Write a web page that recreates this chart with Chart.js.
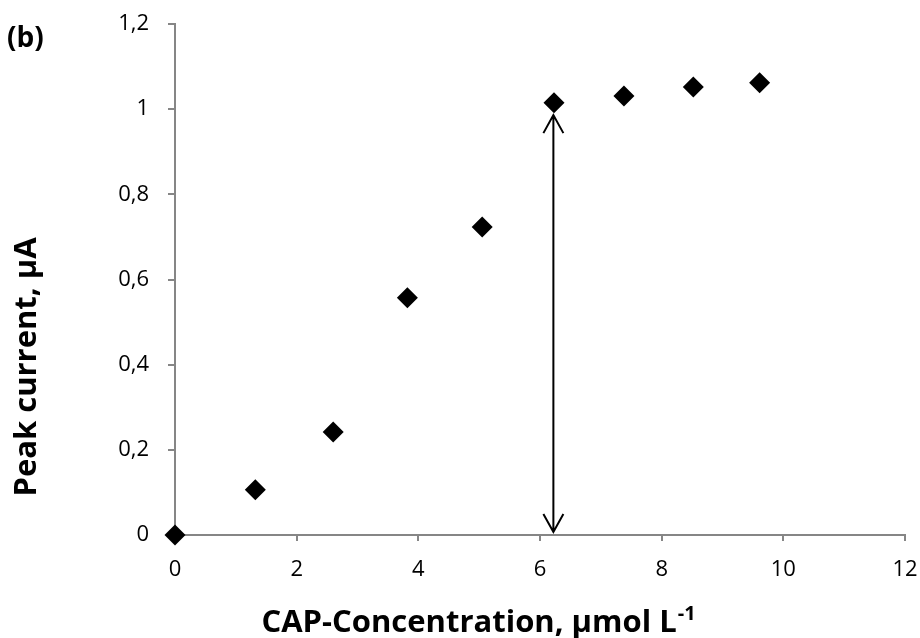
<!DOCTYPE html>
<html>
<head>
<meta charset="utf-8">
<script src="https://cdn.jsdelivr.net/npm/chart.js@4/dist/chart.umd.min.js"></script>
<style>
html,body{margin:0;padding:0;background:#fff;}
#wrap{width:920px;height:638px;position:relative;}
</style>
</head>
<body>
<div id="wrap"><canvas id="c" width="920" height="638"></canvas></div>
<script>
// Data
const concentration = [0, 1.32, 2.6, 3.82, 5.05, 6.23, 7.38, 8.52, 9.61];
const peakCurrent   = [0, 0.106, 0.242, 0.557, 0.723, 1.015, 1.031, 1.052, 1.062];
const arrowX = [6.22, 6.22];
const arrowY = [0.007, 0.986];
const xTicks = [0, 2, 4, 6, 8, 10, 12];
const yTicks = [0, 0.2, 0.4, 0.6, 0.8, 1, 1.2];
const panelLabel = "(b)";
const xTitle = "CAP-Concentration, µmol L";
const xTitleSup = "-1";
const yTitle = "Peak current, µA";

const FONT = "'Open Sans', sans-serif";
const axisGray = "#868686";

const overlay = {
  id: 'overlay',
  afterDatasetsDraw(chart) {
    const ctx = chart.ctx;
    const xs = chart.scales.x, ys = chart.scales.y;
    const ax = xs.getPixelForValue(arrowX[0]);
    const y0 = ys.getPixelForValue(arrowY[0]);
    const y1 = ys.getPixelForValue(arrowY[1]);
    ctx.save();
    ctx.strokeStyle = '#000';
    ctx.lineWidth = 2;
    ctx.beginPath();
    ctx.moveTo(ax, y0); ctx.lineTo(ax, y1);
    ctx.moveTo(ax - 10, y1 + 18); ctx.lineTo(ax, y1); ctx.lineTo(ax + 10, y1 + 18);
    ctx.moveTo(ax - 10, y0 - 18); ctx.lineTo(ax, y0); ctx.lineTo(ax + 10, y0 - 18);
    ctx.stroke();
    ctx.restore();
  },
  afterDraw(chart) {
    const ctx = chart.ctx;
    ctx.save();
    ctx.fillStyle = '#000';
    // panel label
    ctx.font = "bold 28px " + FONT;
    ctx.textAlign = 'left'; ctx.textBaseline = 'middle';
    ctx.fillText(panelLabel, 7, 39);
    // x title
    ctx.font = "bold 31px " + FONT;
    const w1 = ctx.measureText(xTitle).width;
    ctx.font = "bold 20px " + FONT;
    const w2 = ctx.measureText(xTitleSup).width;
    const cx = 478;
    const start = cx - (w1 + w2) / 2;
    ctx.font = "bold 31px " + FONT;
    ctx.textAlign = 'left'; ctx.textBaseline = 'alphabetic';
    ctx.fillText(xTitle, start, 632);
    ctx.font = "bold 20px " + FONT;
    ctx.fillText(xTitleSup, start + w1 + 1, 620);
    // y title
    ctx.translate(36, 367);
    ctx.rotate(-Math.PI / 2);
    ctx.font = "bold 31px " + FONT;
    ctx.textAlign = 'center'; ctx.textBaseline = 'alphabetic';
    ctx.fillText(yTitle, 0, 0);
    ctx.restore();
  }
};

new Chart(document.getElementById('c'), {
  type: 'scatter',
  data: {
    datasets: [{
      data: concentration.map((x, i) => ({x: x, y: peakCurrent[i]})),
      pointStyle: 'rectRot',
      pointRadius: 10.5,
      pointHoverRadius: 10.5,
      backgroundColor: '#000',
      borderColor: '#000',
      borderWidth: 0,
      clip: false
    }]
  },
  options: {
    responsive: false,
    animation: false,
    events: [],
    layout: { padding: { top: 24, right: 15, left: 0, bottom: 0 } },
    plugins: { legend: { display: false }, tooltip: { enabled: false } },
    scales: {
      x: {
        type: 'linear', min: 0, max: 12,
        afterBuildTicks: s => { s.ticks = xTicks.map(v => ({value: v})); },
        afterFit: s => { s.height = 103; s.paddingLeft = 0; s.paddingRight = 0; },
        grid: { drawOnChartArea: false, tickLength: 6, color: axisGray, lineWidth: 2 },
        border: { color: axisGray, width: 2 },
        ticks: { color: '#000', font: { family: FONT, size: 22 }, padding: 16, maxRotation: 0 }
      },
      y: {
        type: 'linear', min: 0, max: 1.2,
        afterBuildTicks: s => { s.ticks = yTicks.map(v => ({value: v})); },
        afterFit: s => { s.width = 175; s.paddingTop = 0; s.paddingBottom = 0; },
        grid: { drawOnChartArea: false, tickLength: 7, color: axisGray, lineWidth: 2 },
        border: { color: axisGray, width: 2 },
        ticks: {
          color: '#000', font: { family: FONT, size: 22 }, padding: 19,
          callback: v => (Math.round(v * 10) / 10).toString().replace('.', ',')
        }
      }
    }
  },
  plugins: [overlay]
});
</script>
</body>
</html>
